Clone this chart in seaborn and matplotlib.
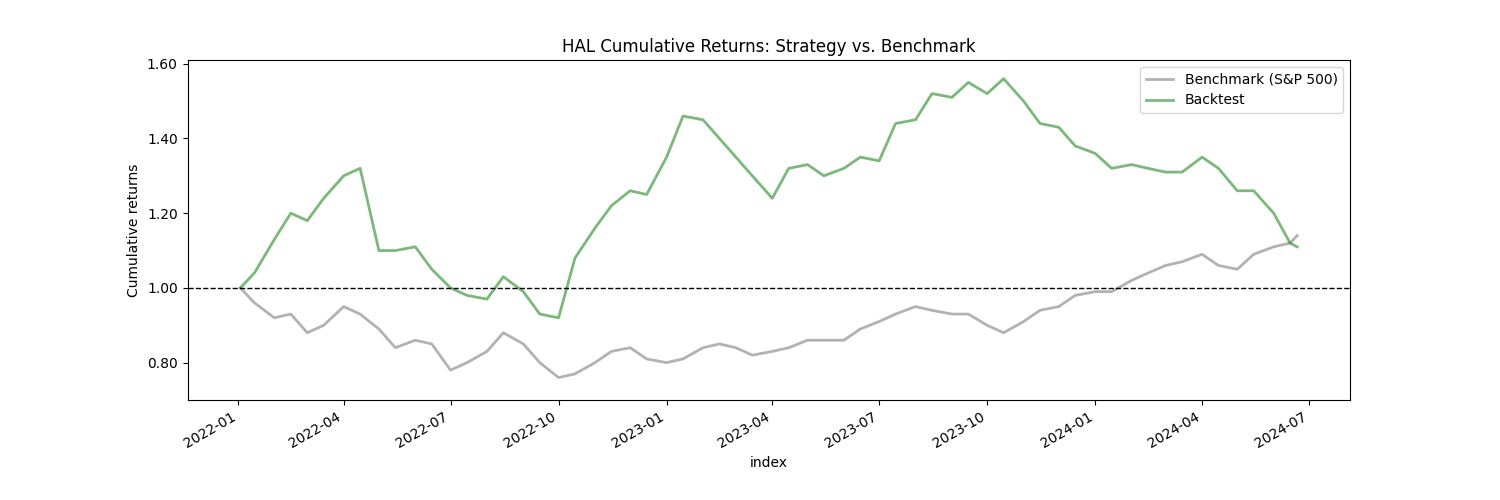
import pandas as pd
import matplotlib.pyplot as plt
import matplotlib.ticker as mticker
import seaborn as sns

dates = list(pd.date_range('2022-01-01', '2024-06-15', freq='SMS')) + [pd.Timestamp('2024-06-21')]
dates[0] = pd.Timestamp('2022-01-03')

backtest = [1.00, 1.04, 1.13, 1.20, 1.18, 1.24, 1.30, 1.32, 1.10, 1.10, 1.11, 1.05,
            1.00, 0.98, 0.97, 1.03, 0.99, 0.93, 0.92, 1.08, 1.16, 1.22, 1.26, 1.25,
            1.35, 1.46, 1.45, 1.40, 1.35, 1.30, 1.24, 1.32, 1.33, 1.30, 1.32, 1.35,
            1.34, 1.44, 1.45, 1.52, 1.51, 1.55, 1.52, 1.56, 1.50, 1.44, 1.43, 1.38,
            1.36, 1.32, 1.33, 1.32, 1.31, 1.31, 1.35, 1.32, 1.26, 1.26, 1.20, 1.12, 1.11]
benchmark = [1.00, 0.96, 0.92, 0.93, 0.88, 0.90, 0.95, 0.93, 0.89, 0.84, 0.86, 0.85,
             0.78, 0.80, 0.83, 0.88, 0.85, 0.80, 0.76, 0.77, 0.80, 0.83, 0.84, 0.81,
             0.80, 0.81, 0.84, 0.85, 0.84, 0.82, 0.83, 0.84, 0.86, 0.86, 0.86, 0.89,
             0.91, 0.93, 0.95, 0.94, 0.93, 0.93, 0.90, 0.88, 0.91, 0.94, 0.95, 0.98,
             0.99, 0.99, 1.02, 1.04, 1.06, 1.07, 1.09, 1.06, 1.05, 1.09, 1.11, 1.12, 1.14]

df = pd.DataFrame({'index': dates, 'Benchmark (S&P 500)': benchmark, 'Backtest': backtest})

fig, ax = plt.subplots(figsize=(15, 5), dpi=100)
sns.lineplot(data=df, x='index', y='Benchmark (S&P 500)', ax=ax, color='gray', alpha=0.6,
             lw=2, label='Benchmark (S&P 500)')
sns.lineplot(data=df, x='index', y='Backtest', ax=ax, color='forestgreen', alpha=0.6,
             lw=2, label='Backtest')
ax.axhline(1.0, color='black', ls='--', lw=1)
ax.set_title('HAL Cumulative Returns: Strategy vs. Benchmark')
ax.set_ylabel('Cumulative returns')
ax.set_xlabel('index')
ax.set_ylim(0.70, 1.61)
ax.yaxis.set_major_locator(mticker.MultipleLocator(0.2))
ax.yaxis.set_major_formatter(mticker.FormatStrFormatter('%.2f'))
ax.legend(loc='upper right')
fig.autofmt_xdate()
plt.savefig('out.png', dpi=100)
